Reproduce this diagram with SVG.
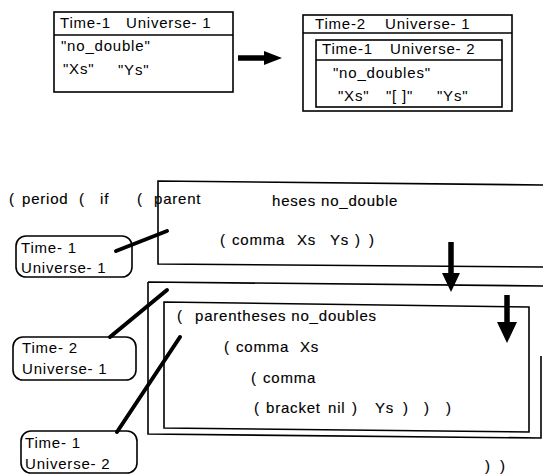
<svg xmlns="http://www.w3.org/2000/svg" width="543" height="474" viewBox="0 0 543 474">
  <defs>
    <style>
      text { font-family: "Liberation Sans", Arial, Helvetica, sans-serif; font-size: 15px; letter-spacing: 0.8px; fill: #000; }
      .code text { stroke: #000; stroke-width: 0.15; }
      .frame { fill: none; stroke: #000; stroke-width: 1.6; }
      .tag { fill: #fff; stroke: #000; stroke-width: 1.6; }
      .leader { fill: none; stroke: #000; stroke-width: 4; stroke-linecap: round; }
      .shaft { fill: none; stroke: #000; stroke-width: 5.5; }
      .head { fill: #000; stroke: none; }
    </style>
  </defs>

  <!-- Frame: Time-1 / Universe-1 -->
  <g id="frame-t1-u1">
    <rect class="frame" x="54" y="12" width="179" height="80"/>
    <line class="frame" x1="54" y1="35" x2="233" y2="35"/>
    <text x="60" y="28">Time-1</text>
    <text x="126" y="28">Universe- 1</text>
    <text x="61" y="51">"no_double"</text>
    <text x="63" y="74">"Xs"</text>
    <text x="118" y="75">"Ys"</text>
  </g>

  <!-- Frame: Time-2 / Universe-1 containing Time-1 / Universe-2 -->
  <g id="frame-t2-u1">
    <rect class="frame" x="303" y="15" width="209" height="96"/>
    <line class="frame" x1="303" y1="33" x2="512" y2="33"/>
    <text x="315" y="29">Time-2</text>
    <text x="385" y="29">Universe- 1</text>
  </g>
  <g id="frame-t1-u2">
    <rect class="frame" x="316" y="40" width="186" height="67"/>
    <line class="frame" x1="316" y1="60" x2="502" y2="60"/>
    <text x="322" y="54">Time-1</text>
    <text x="390" y="54">Universe- 2</text>
    <text x="333" y="78">"no_doubles"</text>
    <text x="338" y="101">"Xs"</text>
    <text x="386" y="101">"[ ]"</text>
    <text x="437" y="101">"Ys"</text>
  </g>

  <!-- Term listing -->
  <g id="term" class="code">
    <text y="204"><tspan x="9">(</tspan><tspan x="22">period</tspan><tspan x="79">(</tspan><tspan x="100">if</tspan><tspan x="137">(</tspan><tspan x="154">parent</tspan></text>
    <text x="272" y="206">heses no_double</text>
    <text y="245"><tspan x="220">(</tspan><tspan x="232">comma</tspan><tspan x="297">Xs</tspan><tspan x="330">Ys</tspan><tspan x="355">)</tspan><tspan x="369">)</tspan></text>
    <text y="321"><tspan x="177">(</tspan><tspan x="195">parentheses no_doubles</tspan></text>
    <text y="352"><tspan x="224">(</tspan><tspan x="236">comma</tspan><tspan x="300">Xs</tspan></text>
    <text y="383"><tspan x="251">(</tspan><tspan x="263">comma</tspan></text>
    <text y="413"><tspan x="254">(</tspan><tspan x="266">bracket</tspan><tspan x="328">nil</tspan><tspan x="352">)</tspan><tspan x="375">Ys</tspan><tspan x="403">)</tspan><tspan x="424">)</tspan><tspan x="446">)</tspan></text>
    <text y="471"><tspan x="485">)</tspan><tspan x="500">)</tspan></text>
  </g>

  <!-- Scope boxes around the term -->
  <g id="scope-t1-u1">
    <path class="frame" d="M545,185 L158,181 L158,264 L545,267"/>
  </g>
  <g id="scope-t2-u1">
    <path class="frame" d="M148,282 L545,286 M148,282 L148,434 L541,438 L541,356"/>
  </g>
  <g id="scope-t1-u2">
    <path class="frame" d="M164,302 L529,307 L529,432 L164,428 Z"/>
  </g>

  <!-- Labels -->
  <g id="label-t1-u1">
    <rect class="tag" x="16" y="236" width="116" height="41" rx="10"/>
    <text x="21" y="253">Time- 1</text>
    <text x="21" y="273">Universe- 1</text>
  </g>
  <g id="label-t2-u1">
    <rect class="tag" x="13" y="337" width="123" height="43" rx="10"/>
    <text x="22" y="353">Time- 2</text>
    <text x="22" y="374">Universe- 1</text>
  </g>
  <g id="label-t1-u2">
    <rect class="tag" x="21" y="431" width="116" height="42" rx="10"/>
    <text x="25" y="448">Time- 1</text>
    <text x="25" y="469">Universe- 2</text>
  </g>

  <!-- Connectors -->
  <g id="connectors">
    <line class="shaft" x1="238" y1="58" x2="266" y2="58"/>
    <polygon class="head" points="264,51 282,58 264,65"/>

    <line class="leader" x1="116" y1="251" x2="167" y2="231"/>
    <line class="leader" x1="110" y1="337" x2="167" y2="290"/>
    <line class="leader" x1="117" y1="432" x2="180" y2="337"/>

    <line class="shaft" x1="451" y1="242" x2="451" y2="275"/>
    <polygon class="head" points="442,273 460,273 451,292"/>
    <line class="shaft" x1="507" y1="295" x2="507" y2="324"/>
    <polygon class="head" points="497,322 517,322 507,343"/>
  </g>
</svg>
